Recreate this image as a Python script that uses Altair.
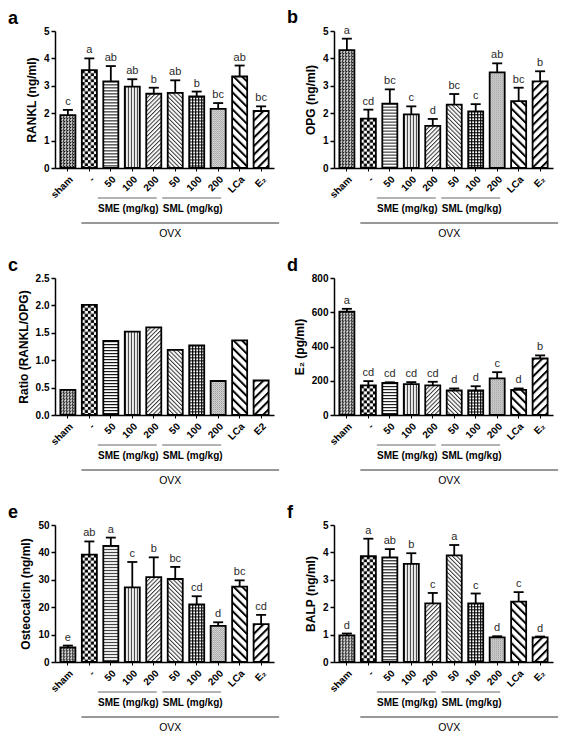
import base64
import altair as alt
import pandas as pd

# ---------------- data ----------------
groups = ["sham", "-", "SME50", "SME100", "SME200", "SML50", "SML100", "SML200", "LCa", "E2"]
tick_text = ["sham", "-", "50", "100", "200", "50", "100", "200", "LCa", "E\u2082"]
tick_text_ratio = ["sham", "-", "50", "100", "200", "50", "100", "200", "LCa", "E2"]

rankl = [1.93, 3.57, 3.16, 2.97, 2.71, 2.74, 2.61, 2.16, 3.34, 2.08]
rankl_err = [0.19, 0.43, 0.56, 0.27, 0.22, 0.46, 0.18, 0.21, 0.40, 0.17]
rankl_sig = ["c", "a", "ab", "ab", "b", "ab", "b", "bc", "ab", "bc"]
rankl_ticks = [0, 1, 2, 3, 4, 5]

opg = [4.30, 1.80, 2.35, 1.96, 1.54, 2.31, 2.07, 3.49, 2.44, 3.16]
opg_err = [0.42, 0.33, 0.52, 0.29, 0.25, 0.39, 0.26, 0.33, 0.49, 0.37]
opg_sig = ["a", "cd", "bc", "c", "d", "bc", "c", "ab", "bc", "b"]
opg_ticks = [0, 1, 2, 3, 4, 5]

ratio = [0.46, 2.01, 1.35, 1.52, 1.60, 1.19, 1.27, 0.62, 1.36, 0.63]
ratio_ticks = [0.0, 0.5, 1.0, 1.5, 2.0, 2.5]

e2 = [603, 173, 187, 180, 173, 143, 143, 214, 147, 330]
e2_err = [17, 25, 4, 12, 21, 12, 25, 36, 8, 18]
e2_sig = ["a", "cd", "cd", "cd", "cd", "d", "d", "c", "d", "b"]
e2_ticks = [0, 200, 400, 600, 800]

ocn = [5.3, 39.2, 42.4, 27.2, 31.0, 30.3, 21.0, 13.2, 27.5, 13.8]
ocn_err = [0.7, 4.8, 3.0, 9.3, 7.2, 4.4, 3.0, 1.3, 2.3, 3.4]
ocn_sig = ["e", "ab", "a", "c", "b", "bc", "cd", "d", "bc", "cd"]
ocn_ticks = [0, 10, 20, 30, 40, 50]

balp = [0.97, 3.86, 3.82, 3.58, 2.14, 3.89, 2.14, 0.90, 2.20, 0.90]
balp_err = [0.07, 0.64, 0.30, 0.39, 0.38, 0.38, 0.36, 0.04, 0.35, 0.03]
balp_sig = ["d", "a", "ab", "b", "c", "a", "c", "d", "c", "d"]
balp_ticks = [0, 1, 2, 3, 4, 5]

dose_labels = ["SME (mg/kg)", "SML (mg/kg)"]
dose_first = ["SME50", "SML50"]
dose_last = ["SME200", "SML200"]
dose_mid = ["SME100", "SML100"]

model_labels = ["OVX"]
model_first = ["-"]
model_last = ["E2"]
model_mid = ["SML50"]

# ---------------- style ----------------
FONT = "Liberation Sans"
W, H = 219, 137


def pat(inner, w, h, rot=None):
    tr = f' patternTransform="rotate({rot})"' if rot is not None else ""
    svg = (
        '<svg xmlns="http://www.w3.org/2000/svg" width="100%" height="100%">'
        f'<defs><pattern id="p" patternUnits="userSpaceOnUse" width="{w}" height="{h}"{tr}>'
        f"{inner}</pattern></defs>"
        '<rect width="100%" height="100%" fill="url(#p)"/></svg>'
    )
    return "data:image/svg+xml;base64," + base64.b64encode(svg.encode()).decode()


PATTERNS = {
    "sham": pat('<rect width="3" height="3" fill="#fff"/><rect width="2" height="1" fill="#111"/>'
                '<rect width="1" height="3" fill="#111"/><rect x="2" y="2" width="1" height="1" fill="#444"/>', 3, 3),
    "-": pat('<rect width="6" height="6" fill="#fff"/><rect width="3" height="3" fill="#000"/>'
             '<rect x="3" y="3" width="3" height="3" fill="#000"/>', 6, 6),
    "SME50": pat('<rect width="4" height="3" fill="#fff"/><rect width="4" height="1" fill="#000"/>', 4, 3),
    "SME100": pat('<rect width="3" height="4" fill="#fff"/><rect width="1" height="4" fill="#000"/>', 3, 4),
    "SME200": pat('<rect width="3" height="3" fill="#fff"/><rect width="1" height="3" fill="#333"/>', 3, 3, 45),
    "SML50": pat('<rect width="3" height="3" fill="#fff"/><rect width="1" height="3" fill="#333"/>', 3, 3, -45),
    "SML100": pat('<rect width="3" height="3" fill="#fff"/><rect width="3" height="1" fill="#000"/>'
                  '<rect width="1" height="3" fill="#000"/>', 3, 3),
    "SML200": pat('<rect width="2" height="2" fill="#fff"/><rect width="1" height="1" fill="#555"/>'
                  '<rect x="1" y="1" width="1" height="1" fill="#999"/>', 2, 2),
    "LCa": pat('<rect width="6" height="6" fill="#fff"/><rect width="2" height="6" fill="#000"/>', 6, 6, -45),
    "E2": pat('<rect width="6" height="6" fill="#fff"/><rect width="2" height="6" fill="#000"/>', 6, 6, 45),
}


def panel(tag, ytitle, values, yticks, yfmt, ticks, errs=None, sig=None):
    df = pd.DataFrame({"key": groups, "value": values})
    df["pattern"] = df["key"].map(PATTERNS)
    if errs is not None:
        df["upper"] = [v + e for v, e in zip(values, errs)]
        df["sig"] = sig

    names = "[" + ",".join(repr(g) for g in groups) + "]"
    texts = "[" + ",".join(repr(t) for t in ticks) + "]"

    xscale = alt.Scale(domain=groups, paddingInner=0.3, paddingOuter=0.25)
    xaxis = alt.Axis(
        title=None, labelExpr=f"{texts}[indexof({names}, datum.value)]",
        labelAngle=-45, labelAlign="right", labelBaseline="top",
        labelFont=FONT, labelFontSize=10, labelFontWeight="bold", labelColor="black",
        labelPadding=3, labelOverlap=False, tickSize=3, tickColor="black", tickWidth=1,
        domainColor="black", domainWidth=1.5,
    )
    yscale = alt.Scale(domain=[yticks[0], yticks[-1]], nice=False)
    yaxis = alt.Axis(
        title=ytitle, values=yticks, format=yfmt, grid=False,
        tickSize=4, tickWidth=1.5, tickColor="black",
        domainColor="black", domainWidth=1.5,
        labelFont=FONT, labelFontSize=10, labelFontWeight="bold", labelColor="black", labelPadding=2,
        titleFont=FONT, titleFontSize=12, titleFontWeight="bold", titleColor="black", titlePadding=5,
    )

    def X(f):
        return alt.X(f, scale=xscale, axis=xaxis)

    def Y(f):
        return alt.Y(f, scale=yscale, axis=yaxis)

    base = alt.Chart(df)
    layers = [
        base.mark_bar(fill="white", strokeWidth=0).encode(x=X("key:N"), y=Y("value:Q")),
        base.mark_image(aspect=False).encode(
            x=X("key:N"), y=Y("value:Q"), y2=alt.datum(0), url=alt.Url("pattern:N")
        ),
    ]
    if errs is not None:
        layers.append(
            base.mark_rule(color="black", strokeWidth=1.8).encode(
                x=X("key:N"), y=Y("value:Q"), y2=alt.Y2("upper")
            )
        )
    layers.append(
        base.mark_bar(fillOpacity=0, stroke="black", strokeWidth=1.8).encode(x=X("key:N"), y=Y("value:Q"))
    )
    if errs is not None:
        layers.append(
            base.mark_tick(color="black", size=10, thickness=1.8, opacity=1, orient="horizontal").encode(
                x=X("key:N"), y=Y("upper:Q")
            )
        )
        layers.append(
            base.mark_text(baseline="bottom", dy=-3, fontSize=11, color="#2a2a2a", font=FONT).encode(
                x=X("key:N"), y=Y("upper:Q"), text="sig:N"
            )
        )

    dose_df = pd.DataFrame({"first": dose_first, "last": dose_last, "mid": dose_mid, "label": dose_labels})
    model_df = pd.DataFrame({"first": model_first, "last": model_last, "mid": model_mid, "label": model_labels})
    layers += [
        alt.Chart(dose_df).mark_rule(color="#666", strokeWidth=1, xOffset=-13, x2Offset=3).encode(
            x=X("first:N"), x2=alt.X2("last"), y=alt.value(H + 30)
        ),
        alt.Chart(dose_df).mark_text(fontSize=10, fontWeight="bold", font=FONT, color="black",
                                     dx=-4, baseline="middle").encode(
            x=X("mid:N"), y=alt.value(H + 41), text="label:N"
        ),
        alt.Chart(model_df).mark_rule(color="#333", strokeWidth=1, xOffset=-8, x2Offset=18).encode(
            x=X("first:N"), x2=alt.X2("last"), y=alt.value(H + 55)
        ),
        alt.Chart(model_df).mark_text(fontSize=10.5, font=FONT, color="black",
                                      dx=-5, baseline="middle").encode(
            x=X("mid:N"), y=alt.value(H + 66), text="label:N"
        ),
    ]

    return alt.layer(*layers).properties(
        width=W, height=H,
        title=alt.TitleParams(tag, anchor="start", frame="group", dx=-47, offset=-2,
                              font=FONT, fontSize=18, fontWeight="bold", color="black"),
    )


pa = panel("a", "RANKL (ng/ml)", rankl, rankl_ticks, "d", tick_text, rankl_err, rankl_sig)
pb = panel("b", "OPG (ng/ml)", opg, opg_ticks, "d", tick_text, opg_err, opg_sig)
pc = panel("c", "Ratio (RANKL/OPG)", ratio, ratio_ticks, ".1f", tick_text_ratio)
pd_ = panel("d", "E\u2082 (pg/ml)", e2, e2_ticks, "d", tick_text, e2_err, e2_sig)
pe = panel("e", "Osteocalcin (ng/ml)", ocn, ocn_ticks, "d", tick_text, ocn_err, ocn_sig)
pf = panel("f", "BALP (ng/ml)", balp, balp_ticks, "d", tick_text, balp_err, balp_sig)

chart = (
    alt.concat(pa, pb, pc, pd_, pe, pf, columns=2, spacing={"row": 17, "column": 7})
    .properties(padding={"left": 0, "top": 0, "right": 0, "bottom": 0}, background="white")
    .configure_view(stroke=None)
)

chart.save("out.html", embed_options={"renderer": "svg", "actions": False})
